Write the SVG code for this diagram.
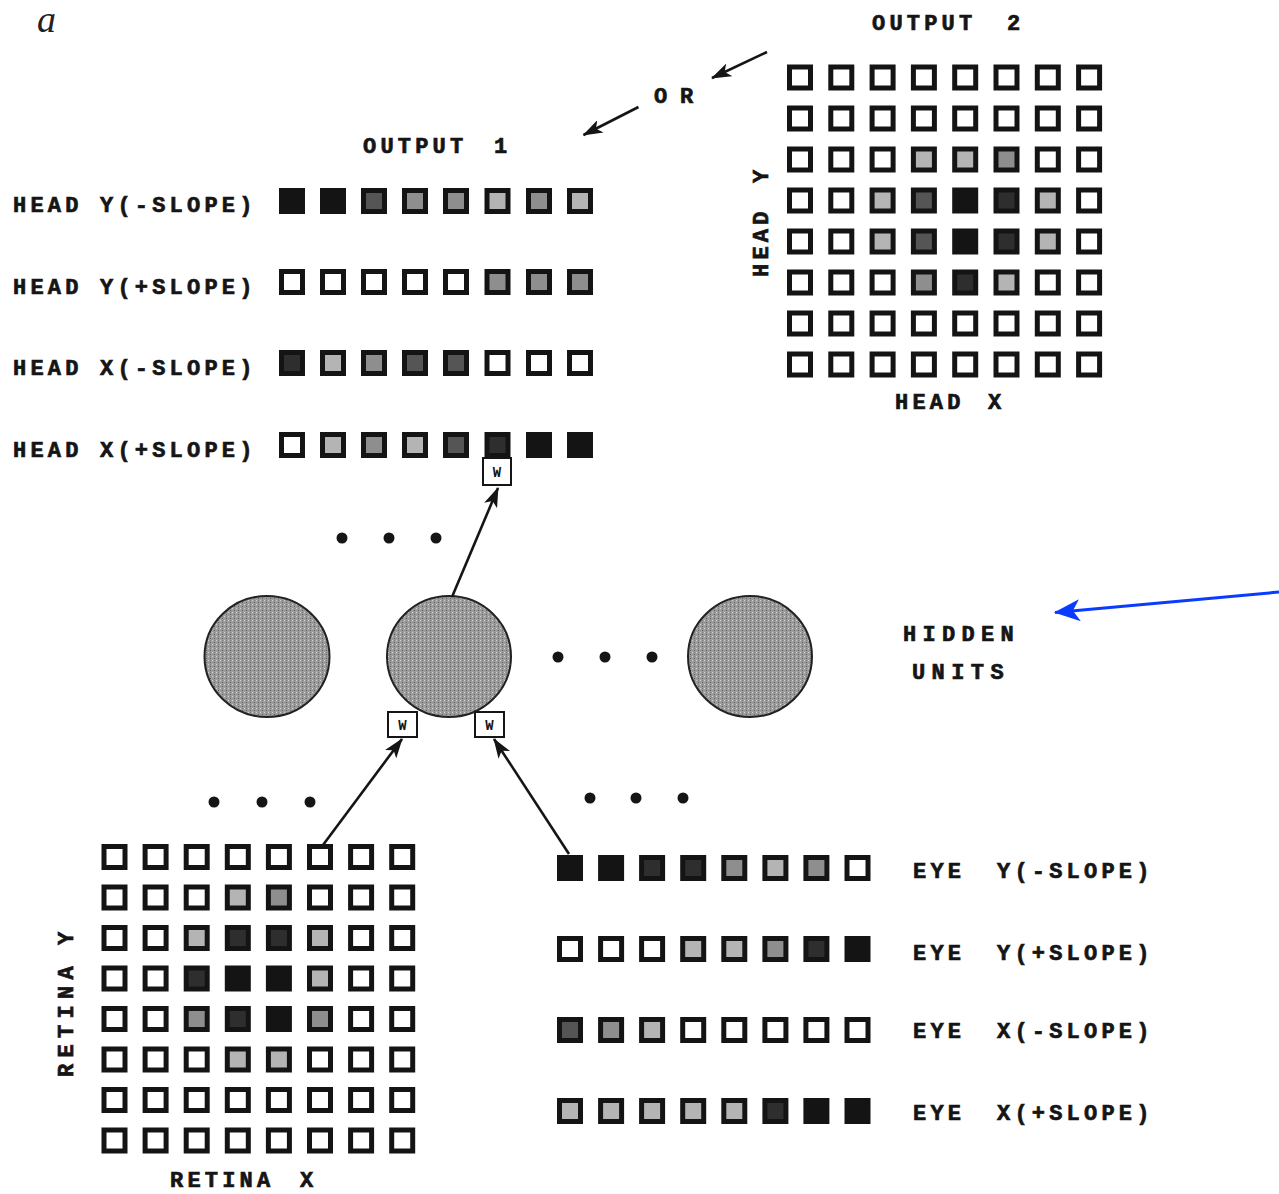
<svg xmlns="http://www.w3.org/2000/svg" width="1279" height="1194" viewBox="0 0 1279 1194">
<style>
.q{stroke:#141414;stroke-width:5}
.q0{fill:#fff}.qL{fill:#b4b4b4}.qM{fill:#8e8e8e}.qD{fill:#555}.qV{fill:#2e2e2e}.qB{fill:#141414}
.lbl{font-family:"Liberation Mono","Courier New",monospace;font-weight:bold;font-size:22px;letter-spacing:4.2px;fill:#151515;stroke:#151515;stroke-width:0.7}
.w{font-family:"Liberation Mono","Courier New",monospace;font-weight:bold;font-size:14px;fill:#151515;text-anchor:middle}
.wb{fill:#fff;stroke:#151515;stroke-width:2}
.hu{fill:url(#stip);stroke:#222;stroke-width:2}
.dot{fill:#151515}
.con{stroke:#151515;stroke-width:2.6;fill:none}
.blue{stroke:#0a3cff;stroke-width:3;fill:none}
</style>
<defs>
<rect id="s" x="-10.5" y="-10.5" width="21" height="21"/>
<pattern id="stip" width="4" height="4" patternUnits="userSpaceOnUse">
<rect width="4" height="4" fill="#9c9c9c"/>
<rect x="0" y="0" width="1" height="1" fill="#d6d6d6"/>
<rect x="2" y="2" width="1" height="1" fill="#5e5e5e"/>
<rect x="2" y="0" width="1" height="1" fill="#808080"/>
</pattern>
<marker id="ah" viewBox="0 0 20 14" markerWidth="20" markerHeight="14" refX="19" refY="7" orient="auto" markerUnits="userSpaceOnUse">
<path d="M0,0 L20,7 L0,14 L5,7 z" fill="#151515"/>
</marker>
<marker id="ahb" viewBox="0 0 26 22" markerWidth="26" markerHeight="22" refX="25" refY="11" orient="auto" markerUnits="userSpaceOnUse">
<path d="M0,0 L26,11 L0,22 L7,11 z" fill="#0a3cff"/>
</marker>
</defs>
<rect width="1279" height="1194" fill="#fff"/>

<text x="37" y="32" style="font-family:'Liberation Serif','Times New Roman',serif;font-style:italic;font-size:38px;fill:#222">a</text>

<g id="output1">
<text class="lbl" x="363" y="153">OUTPUT <tspan x="494">1</tspan></text>
<text class="lbl" x="654" y="103" style="letter-spacing:12.8px">OR</text>
<g id="head-y-neg">
<text class="lbl" x="13" y="212">HEAD Y(-SLOPE)</text>
<use href="#s" class="q qB" x="292" y="201"/><use href="#s" class="q qB" x="333" y="201"/><use href="#s" class="q qD" x="374" y="201"/><use href="#s" class="q qM" x="415" y="201"/><use href="#s" class="q qM" x="456" y="201"/><use href="#s" class="q qL" x="497.5" y="201"/><use href="#s" class="q qM" x="539" y="201"/><use href="#s" class="q qL" x="580" y="201"/>
</g>
<g id="head-y-pos">
<text class="lbl" x="13" y="294">HEAD Y(+SLOPE)</text>
<use href="#s" class="q q0" x="292" y="282"/><use href="#s" class="q q0" x="333" y="282"/><use href="#s" class="q q0" x="374" y="282"/><use href="#s" class="q q0" x="415" y="282"/><use href="#s" class="q q0" x="456" y="282"/><use href="#s" class="q qM" x="497.5" y="282"/><use href="#s" class="q qM" x="539" y="282"/><use href="#s" class="q qM" x="580" y="282"/>
</g>
<g id="head-x-neg">
<text class="lbl" x="13" y="375">HEAD X(-SLOPE)</text>
<use href="#s" class="q qV" x="292" y="363"/><use href="#s" class="q qL" x="333" y="363"/><use href="#s" class="q qM" x="374" y="363"/><use href="#s" class="q qD" x="415" y="363"/><use href="#s" class="q qD" x="456" y="363"/><use href="#s" class="q q0" x="497.5" y="363"/><use href="#s" class="q q0" x="539" y="363"/><use href="#s" class="q q0" x="580" y="363"/>
</g>
<g id="head-x-pos">
<text class="lbl" x="13" y="457">HEAD X(+SLOPE)</text>
<use href="#s" class="q q0" x="292" y="445"/><use href="#s" class="q qL" x="333" y="445"/><use href="#s" class="q qM" x="374" y="445"/><use href="#s" class="q qL" x="415" y="445"/><use href="#s" class="q qD" x="456" y="445"/><use href="#s" class="q qV" x="497.5" y="445"/><use href="#s" class="q qB" x="539" y="445"/><use href="#s" class="q qB" x="580" y="445"/>
</g>
</g>

<g id="output2">
<text class="lbl" x="872" y="30">OUTPUT <tspan x="1007">2</tspan></text>
<text class="lbl" x="895" y="409">HEAD <tspan x="988">X</tspan></text>
<text class="lbl" transform="translate(768,277) rotate(-90)" x="0" y="0">HEAD <tspan x="94">Y</tspan></text>
<use href="#s" class="q q0" x="800" y="77.5"/><use href="#s" class="q q0" x="841.3" y="77.5"/><use href="#s" class="q q0" x="882.6" y="77.5"/><use href="#s" class="q q0" x="923.9" y="77.5"/><use href="#s" class="q q0" x="965.2" y="77.5"/><use href="#s" class="q q0" x="1006.5" y="77.5"/><use href="#s" class="q q0" x="1047.8" y="77.5"/><use href="#s" class="q q0" x="1089.1" y="77.5"/>
<use href="#s" class="q q0" x="800" y="118.5"/><use href="#s" class="q q0" x="841.3" y="118.5"/><use href="#s" class="q q0" x="882.6" y="118.5"/><use href="#s" class="q q0" x="923.9" y="118.5"/><use href="#s" class="q q0" x="965.2" y="118.5"/><use href="#s" class="q q0" x="1006.5" y="118.5"/><use href="#s" class="q q0" x="1047.8" y="118.5"/><use href="#s" class="q q0" x="1089.1" y="118.5"/>
<use href="#s" class="q q0" x="800" y="159.5"/><use href="#s" class="q q0" x="841.3" y="159.5"/><use href="#s" class="q q0" x="882.6" y="159.5"/><use href="#s" class="q qL" x="923.9" y="159.5"/><use href="#s" class="q qL" x="965.2" y="159.5"/><use href="#s" class="q qM" x="1006.5" y="159.5"/><use href="#s" class="q q0" x="1047.8" y="159.5"/><use href="#s" class="q q0" x="1089.1" y="159.5"/>
<use href="#s" class="q q0" x="800" y="200.5"/><use href="#s" class="q q0" x="841.3" y="200.5"/><use href="#s" class="q qL" x="882.6" y="200.5"/><use href="#s" class="q qD" x="923.9" y="200.5"/><use href="#s" class="q qB" x="965.2" y="200.5"/><use href="#s" class="q qV" x="1006.5" y="200.5"/><use href="#s" class="q qL" x="1047.8" y="200.5"/><use href="#s" class="q q0" x="1089.1" y="200.5"/>
<use href="#s" class="q q0" x="800" y="241.5"/><use href="#s" class="q q0" x="841.3" y="241.5"/><use href="#s" class="q qL" x="882.6" y="241.5"/><use href="#s" class="q qD" x="923.9" y="241.5"/><use href="#s" class="q qB" x="965.2" y="241.5"/><use href="#s" class="q qV" x="1006.5" y="241.5"/><use href="#s" class="q qL" x="1047.8" y="241.5"/><use href="#s" class="q q0" x="1089.1" y="241.5"/>
<use href="#s" class="q q0" x="800" y="282.5"/><use href="#s" class="q q0" x="841.3" y="282.5"/><use href="#s" class="q q0" x="882.6" y="282.5"/><use href="#s" class="q qM" x="923.9" y="282.5"/><use href="#s" class="q qV" x="965.2" y="282.5"/><use href="#s" class="q qL" x="1006.5" y="282.5"/><use href="#s" class="q q0" x="1047.8" y="282.5"/><use href="#s" class="q q0" x="1089.1" y="282.5"/>
<use href="#s" class="q q0" x="800" y="323.5"/><use href="#s" class="q q0" x="841.3" y="323.5"/><use href="#s" class="q q0" x="882.6" y="323.5"/><use href="#s" class="q q0" x="923.9" y="323.5"/><use href="#s" class="q q0" x="965.2" y="323.5"/><use href="#s" class="q q0" x="1006.5" y="323.5"/><use href="#s" class="q q0" x="1047.8" y="323.5"/><use href="#s" class="q q0" x="1089.1" y="323.5"/>
<use href="#s" class="q q0" x="800" y="364.5"/><use href="#s" class="q q0" x="841.3" y="364.5"/><use href="#s" class="q q0" x="882.6" y="364.5"/><use href="#s" class="q q0" x="923.9" y="364.5"/><use href="#s" class="q q0" x="965.2" y="364.5"/><use href="#s" class="q q0" x="1006.5" y="364.5"/><use href="#s" class="q q0" x="1047.8" y="364.5"/><use href="#s" class="q q0" x="1089.1" y="364.5"/>
</g>

<g id="hidden-units">
<text class="lbl" x="903" y="641" style="letter-spacing:6.3px">HIDDEN</text>
<text class="lbl" x="912" y="679" style="letter-spacing:6.4px">UNITS</text>
<g id="hidden-1"><ellipse class="hu" cx="267" cy="656.5" rx="62.5" ry="60.5"/></g>
<g id="hidden-2"><ellipse class="hu" cx="449" cy="656.5" rx="62" ry="60.5"/></g>
<g id="hidden-3"><ellipse class="hu" cx="750" cy="656.5" rx="62" ry="60.5"/></g>
<circle class="dot" cx="342" cy="538" r="5.5"/><circle class="dot" cx="389" cy="538" r="5.5"/><circle class="dot" cx="436" cy="538" r="5.5"/>
<circle class="dot" cx="558" cy="657" r="5.5"/><circle class="dot" cx="605" cy="657" r="5.5"/><circle class="dot" cx="652" cy="657" r="5.5"/>
<circle class="dot" cx="214" cy="802" r="5.5"/><circle class="dot" cx="262" cy="802" r="5.5"/><circle class="dot" cx="310" cy="802" r="5.5"/>
<circle class="dot" cx="590" cy="798" r="5.5"/><circle class="dot" cx="636" cy="798" r="5.5"/><circle class="dot" cx="683" cy="798" r="5.5"/>
</g>

<g id="w-top"><rect class="wb" x="483" y="458" width="28" height="27"/><text class="w" x="497" y="476.5">W</text></g>
<g id="w-left"><rect class="wb" x="388" y="712" width="29" height="25"/><text class="w" x="402.5" y="729.5">W</text></g>
<g id="w-right"><rect class="wb" x="475" y="712" width="29" height="25"/><text class="w" x="489.5" y="729.5">W</text></g>

<g id="retina">
<text class="lbl" x="170" y="1187">RETINA <tspan x="300">X</tspan></text>
<text class="lbl" transform="translate(73,1077) rotate(-90)" x="0" y="0" style="letter-spacing:6.3px">RETINA <tspan x="132">Y</tspan></text>
<use href="#s" class="q q0" x="114.5" y="857"/><use href="#s" class="q q0" x="155.6" y="857"/><use href="#s" class="q q0" x="196.7" y="857"/><use href="#s" class="q q0" x="237.8" y="857"/><use href="#s" class="q q0" x="278.9" y="857"/><use href="#s" class="q q0" x="320" y="857"/><use href="#s" class="q q0" x="361.1" y="857"/><use href="#s" class="q q0" x="402.2" y="857"/>
<use href="#s" class="q q0" x="114.5" y="897.5"/><use href="#s" class="q q0" x="155.6" y="897.5"/><use href="#s" class="q q0" x="196.7" y="897.5"/><use href="#s" class="q qL" x="237.8" y="897.5"/><use href="#s" class="q qM" x="278.9" y="897.5"/><use href="#s" class="q q0" x="320" y="897.5"/><use href="#s" class="q q0" x="361.1" y="897.5"/><use href="#s" class="q q0" x="402.2" y="897.5"/>
<use href="#s" class="q q0" x="114.5" y="938"/><use href="#s" class="q q0" x="155.6" y="938"/><use href="#s" class="q qL" x="196.7" y="938"/><use href="#s" class="q qV" x="237.8" y="938"/><use href="#s" class="q qV" x="278.9" y="938"/><use href="#s" class="q qL" x="320" y="938"/><use href="#s" class="q q0" x="361.1" y="938"/><use href="#s" class="q q0" x="402.2" y="938"/>
<use href="#s" class="q q0" x="114.5" y="978.5"/><use href="#s" class="q q0" x="155.6" y="978.5"/><use href="#s" class="q qV" x="196.7" y="978.5"/><use href="#s" class="q qB" x="237.8" y="978.5"/><use href="#s" class="q qB" x="278.9" y="978.5"/><use href="#s" class="q qL" x="320" y="978.5"/><use href="#s" class="q q0" x="361.1" y="978.5"/><use href="#s" class="q q0" x="402.2" y="978.5"/>
<use href="#s" class="q q0" x="114.5" y="1019"/><use href="#s" class="q q0" x="155.6" y="1019"/><use href="#s" class="q qM" x="196.7" y="1019"/><use href="#s" class="q qV" x="237.8" y="1019"/><use href="#s" class="q qB" x="278.9" y="1019"/><use href="#s" class="q qM" x="320" y="1019"/><use href="#s" class="q q0" x="361.1" y="1019"/><use href="#s" class="q q0" x="402.2" y="1019"/>
<use href="#s" class="q q0" x="114.5" y="1059.5"/><use href="#s" class="q q0" x="155.6" y="1059.5"/><use href="#s" class="q q0" x="196.7" y="1059.5"/><use href="#s" class="q qL" x="237.8" y="1059.5"/><use href="#s" class="q qL" x="278.9" y="1059.5"/><use href="#s" class="q q0" x="320" y="1059.5"/><use href="#s" class="q q0" x="361.1" y="1059.5"/><use href="#s" class="q q0" x="402.2" y="1059.5"/>
<use href="#s" class="q q0" x="114.5" y="1100"/><use href="#s" class="q q0" x="155.6" y="1100"/><use href="#s" class="q q0" x="196.7" y="1100"/><use href="#s" class="q q0" x="237.8" y="1100"/><use href="#s" class="q q0" x="278.9" y="1100"/><use href="#s" class="q q0" x="320" y="1100"/><use href="#s" class="q q0" x="361.1" y="1100"/><use href="#s" class="q q0" x="402.2" y="1100"/>
<use href="#s" class="q q0" x="114.5" y="1140.5"/><use href="#s" class="q q0" x="155.6" y="1140.5"/><use href="#s" class="q q0" x="196.7" y="1140.5"/><use href="#s" class="q q0" x="237.8" y="1140.5"/><use href="#s" class="q q0" x="278.9" y="1140.5"/><use href="#s" class="q q0" x="320" y="1140.5"/><use href="#s" class="q q0" x="361.1" y="1140.5"/><use href="#s" class="q q0" x="402.2" y="1140.5"/>
</g>

<g id="eye">
<g id="eye-y-neg">
<text class="lbl" x="913" y="878">EYE <tspan x="997">Y(-SLOPE)</tspan></text>
<use href="#s" class="q qB" x="570" y="868"/><use href="#s" class="q qB" x="611.1" y="868"/><use href="#s" class="q qV" x="652.1" y="868"/><use href="#s" class="q qV" x="693.2" y="868"/><use href="#s" class="q qM" x="734.3" y="868"/><use href="#s" class="q qL" x="775.4" y="868"/><use href="#s" class="q qM" x="816.4" y="868"/><use href="#s" class="q q0" x="857.5" y="868"/>
</g>
<g id="eye-y-pos">
<text class="lbl" x="913" y="960">EYE <tspan x="997">Y(+SLOPE)</tspan></text>
<use href="#s" class="q q0" x="570" y="949"/><use href="#s" class="q q0" x="611.1" y="949"/><use href="#s" class="q q0" x="652.1" y="949"/><use href="#s" class="q qL" x="693.2" y="949"/><use href="#s" class="q qL" x="734.3" y="949"/><use href="#s" class="q qM" x="775.4" y="949"/><use href="#s" class="q qV" x="816.4" y="949"/><use href="#s" class="q qB" x="857.5" y="949"/>
</g>
<g id="eye-x-neg">
<text class="lbl" x="913" y="1038">EYE <tspan x="997">X(-SLOPE)</tspan></text>
<use href="#s" class="q qD" x="570" y="1030"/><use href="#s" class="q qM" x="611.1" y="1030"/><use href="#s" class="q qL" x="652.1" y="1030"/><use href="#s" class="q q0" x="693.2" y="1030"/><use href="#s" class="q q0" x="734.3" y="1030"/><use href="#s" class="q q0" x="775.4" y="1030"/><use href="#s" class="q q0" x="816.4" y="1030"/><use href="#s" class="q q0" x="857.5" y="1030"/>
</g>
<g id="eye-x-pos">
<text class="lbl" x="913" y="1120">EYE <tspan x="997">X(+SLOPE)</tspan></text>
<use href="#s" class="q qL" x="570" y="1111"/><use href="#s" class="q qL" x="611.1" y="1111"/><use href="#s" class="q qL" x="652.1" y="1111"/><use href="#s" class="q qL" x="693.2" y="1111"/><use href="#s" class="q qL" x="734.3" y="1111"/><use href="#s" class="q qV" x="775.4" y="1111"/><use href="#s" class="q qB" x="816.4" y="1111"/><use href="#s" class="q qB" x="857.5" y="1111"/>
</g>
</g>

<g id="connectors">
<line class="con" x1="767" y1="52" x2="712" y2="78" marker-end="url(#ah)"/>
<line class="con" x1="638.5" y1="107" x2="583.5" y2="135" marker-end="url(#ah)"/>
<line class="con" x1="452" y1="597" x2="498" y2="488" marker-end="url(#ah)"/>
<line class="con" x1="323" y1="845" x2="402" y2="739" marker-end="url(#ah)"/>
<line class="con" x1="569" y1="854" x2="494" y2="739" marker-end="url(#ah)"/>
<line class="blue" x1="1279" y1="592" x2="1055" y2="612.5" marker-end="url(#ahb)"/>
</g>
</svg>
